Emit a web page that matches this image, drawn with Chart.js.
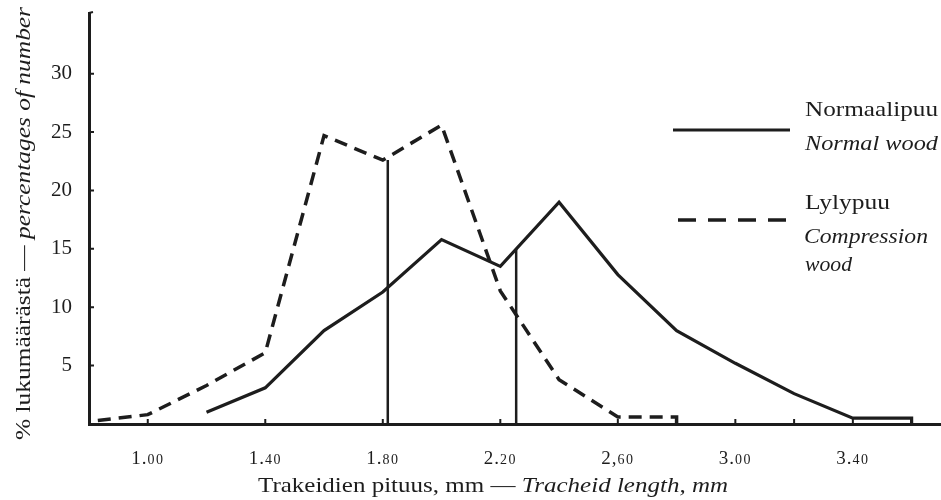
<!DOCTYPE html>
<html>
<head>
<meta charset="utf-8">
<script src="https://cdn.jsdelivr.net/npm/chart.js@4.4.1/dist/chart.umd.min.js"></script>
<style>
  html, body { margin: 0; padding: 0; background: #ffffff; }
  #wrap { width: 941px; height: 500px; }
</style>
</head>
<body>
<div id="wrap"><canvas id="chart"></canvas></div>
<script>
// tracheid length classes (mm) and share of tracheids (%)
const lengthNormal = [1.2, 1.4, 1.6, 1.8, 2.0, 2.2, 2.4, 2.6, 2.8, 3.0, 3.2, 3.4, 3.6, 3.6];
const pctNormal = [1.0, 3.1, 8.0, 11.3, 15.8, 13.5, 19.0, 12.8, 8.0, 5.2, 2.6, 0.5, 0.5, 0];
const lengthCompression = [0.83, 1.0, 1.2, 1.4, 1.6, 1.8, 2.0, 2.2, 2.4, 2.6, 2.8, 2.8];
const pctCompression = [0.3, 0.8, 3.3, 6.1, 24.7, 22.6, 25.6, 11.4, 3.8, 0.6, 0.6, 0];

// mean tracheid length, drawn as a vertical line up to the curve
const meanNormal = 2.254;
const meanNormalHeight = 15.0;
const meanCompression = 1.817;
const meanCompressionHeight = 22.6;

// axis ticks
const xTickValues = [1.0, 1.4, 1.8, 2.2, 2.6, 3.0, 3.4];
const xTickLabels = ["1.00", "1.40", "1.80", "2.20", "2,60", "3.00", "3.40"];
const xTickMarks = [1.0, 1.4, 1.8, 2.2, 2.6, 3.0, 3.2, 3.4];
const yTickValues = [5, 10, 15, 20, 25, 30];

const ink = "#1d1d1d";
const serif = '"Liberation Serif", "Times New Roman", serif';

const toPoints = (xs, ys) => xs.map((x, i) => ({ x: x, y: ys[i] }));

// draw a run of roman/italic pieces, stretched sideways to a given width
function drawRun(ctx, parts, size, x, y, width) {
  let natural = 0;
  parts.forEach((p) => {
    ctx.font = (p.italic ? "italic " : "") + size + "px " + serif;
    natural += ctx.measureText(p.text).width;
  });
  const stretch = width ? width / natural : 1;
  ctx.save();
  ctx.translate(x, y);
  ctx.scale(stretch, 1);
  let cx = 0;
  parts.forEach((p) => {
    ctx.font = (p.italic ? "italic " : "") + size + "px " + serif;
    ctx.fillText(p.text, cx, 0);
    cx += ctx.measureText(p.text).width;
  });
  ctx.restore();
}

const decorations = {
  id: "decorations",
  afterDraw(chart) {
    const ctx = chart.ctx;
    const xs = chart.scales.x;
    const ys = chart.scales.y;
    const area = chart.chartArea;
    ctx.save();
    ctx.fillStyle = ink;
    ctx.strokeStyle = ink;
    ctx.textAlign = "left";
    ctx.textBaseline = "alphabetic";

    // small inward tick marks, plus the little hook on top of the y axis
    ctx.lineWidth = 2;
    ctx.beginPath();
    yTickValues.forEach((v) => {
      const py = ys.getPixelForValue(v);
      ctx.moveTo(area.left, py);
      ctx.lineTo(area.left + 5, py);
    });
    xTickMarks.forEach((v) => {
      const px = xs.getPixelForValue(v);
      ctx.moveTo(px, area.bottom);
      ctx.lineTo(px, area.bottom - 5);
    });
    ctx.moveTo(area.left, area.top);
    ctx.lineTo(area.left + 4, area.top - 1);
    ctx.stroke();

    // x tick labels, decimals set smaller
    xTickValues.forEach((v, i) => {
      const lbl = xTickLabels[i];
      const head = lbl.slice(0, 2);
      const tail = lbl.slice(2);
      ctx.font = "19px " + serif;
      ctx.letterSpacing = "1px";
      const wHead = ctx.measureText(head).width;
      ctx.font = "14px " + serif;
      ctx.letterSpacing = "1.5px";
      const wTail = ctx.measureText(tail).width;
      const px = xs.getPixelForValue(v) - (wHead + wTail) / 2;
      ctx.font = "19px " + serif;
      ctx.letterSpacing = "1px";
      ctx.fillText(head, px, 464);
      ctx.font = "14px " + serif;
      ctx.letterSpacing = "1.5px";
      ctx.fillText(tail, px + wHead, 464);
    });
    ctx.letterSpacing = "0px";

    // x axis title
    drawRun(ctx, [
      { text: "Trakeidien pituus, mm \u2014 ", italic: false },
      { text: "Tracheid length, mm", italic: true },
    ], 21, 258, 492, 470);

    // y axis title, rotated
    ctx.save();
    ctx.translate(30, 440);
    ctx.rotate(-Math.PI / 2);
    drawRun(ctx, [
      { text: "% lukum\u00e4\u00e4r\u00e4st\u00e4 \u2014 ", italic: false },
      { text: "percentages of number", italic: true },
    ], 21, 0, 0, 433);
    ctx.restore();

    // legend
    ctx.lineWidth = 3;
    ctx.setLineDash([]);
    ctx.beginPath();
    ctx.moveTo(673, 130);
    ctx.lineTo(790, 130);
    ctx.stroke();
    ctx.lineWidth = 3.5;
    ctx.setLineDash([18, 12]);
    ctx.beginPath();
    ctx.moveTo(678, 220);
    ctx.lineTo(792, 220);
    ctx.stroke();
    ctx.setLineDash([]);

    drawRun(ctx, [{ text: "Normaalipuu", italic: false }], 21, 805, 116, 133);
    drawRun(ctx, [{ text: "Normal wood", italic: true }], 21, 805, 150, 133);
    drawRun(ctx, [{ text: "Lylypuu", italic: false }], 21, 805, 209, 85);
    drawRun(ctx, [{ text: "Compression", italic: true }], 21, 804, 243, 124);
    drawRun(ctx, [{ text: "wood", italic: true }], 21, 805, 271, 47);

    ctx.restore();
  },
};

new Chart(document.getElementById("chart"), {
  type: "line",
  plugins: [decorations],
  data: {
    datasets: [
      {
        label: "Normaalipuu",
        data: toPoints(lengthNormal, pctNormal),
        borderColor: ink,
        borderWidth: 3.2,
        pointRadius: 0,
        tension: 0,
      },
      {
        label: "Lylypuu",
        data: toPoints(lengthCompression, pctCompression),
        borderColor: ink,
        borderWidth: 3.5,
        borderDash: [13, 8],
        pointRadius: 0,
        tension: 0,
      },
      {
        label: "mean normal",
        data: toPoints([meanNormal, meanNormal], [0, meanNormalHeight]),
        borderColor: ink,
        borderWidth: 2.5,
        pointRadius: 0,
      },
      {
        label: "mean compression",
        data: toPoints([meanCompression, meanCompression], [0, meanCompressionHeight]),
        borderColor: ink,
        borderWidth: 2.5,
        pointRadius: 0,
      },
    ],
  },
  options: {
    responsive: true,
    maintainAspectRatio: false,
    animation: false,
    layout: { padding: { top: 13, right: 0, bottom: 0, left: 0 } },
    plugins: {
      legend: { display: false },
      tooltip: { enabled: false },
    },
    scales: {
      x: {
        type: "linear",
        min: 0.8,
        max: 3.7,
        grid: { display: false },
        border: { display: true, color: ink, width: 3 },
        ticks: { display: false },
        afterFit: (scale) => {
          scale.height = 76;
          scale.paddingLeft = 0;
          scale.paddingRight = 0;
        },
      },
      y: {
        type: "linear",
        min: 0,
        max: 35.2,
        grid: { display: false, drawTicks: false },
        border: { display: true, color: ink, width: 3 },
        afterBuildTicks: (scale) => {
          scale.ticks = yTickValues.map((v) => ({ value: v }));
        },
        ticks: {
          color: ink,
          padding: 17,
          font: { family: serif, size: 21 },
        },
        afterFit: (scale) => {
          scale.width = 89;
          scale.paddingTop = 0;
          scale.paddingBottom = 0;
        },
      },
    },
  },
});
</script>
</body>
</html>
